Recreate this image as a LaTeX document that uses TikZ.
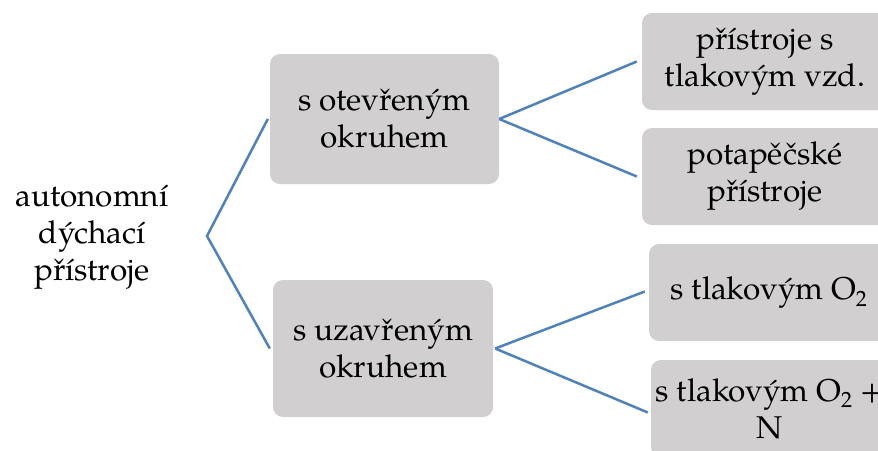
\documentclass[tikz,border=0pt]{standalone}
\usepackage{fontspec}
\setmainfont{TeX Gyre Pagella}
\definecolor{boxgray}{RGB}{209,207,208}
\definecolor{linkblue}{RGB}{79,129,189}
\begin{document}
\begin{tikzpicture}[x=1pt,y=-1pt,
  every node/.style={font=\fontsize{31.5}{37}\selectfont, align=center, inner sep=0pt},
  gbox/.style={fill=boxgray, rounded corners=10pt},
  link/.style={draw=linkblue, line width=2.5pt}]
\useasboundingbox (0,0) rectangle (878,450);
\clip (0,0) rectangle (878,450);
\node (root) at (92,237) {autonomní\\dýchací\\přístroje};
\node[gbox, minimum width=229pt, minimum height=130pt] (b1) at (384.5,119) {s otevřeným\\okruhem};
\node[gbox, minimum width=220pt, minimum height=137pt] (b2) at (383,348.5) {s uzavřeným\\okruhem};
\node[gbox, minimum width=246pt, minimum height=97pt] (b3) at (765,61.5) {přístroje s\\tlakovým vzd.};
\node[gbox, minimum width=246pt, minimum height=97pt] (b4) at (765,176.5) {potapěčské\\přístroje};
\node[gbox, minimum width=240pt, minimum height=97pt] (b5) at (769,292.5) {s tlakovým O\textsubscript{2}};
\node[gbox, minimum width=238pt, minimum height=97pt] (b6) at (770,408.5) {s tlakovým O\textsubscript{2} +\\N};
\coordinate (v1) at (207,236);
\draw[link, line join=miter] ([xshift=-2pt]b1.west) -- (v1) -- ([xshift=-3pt]b2.west);
\draw[link] (b1.east) -- ([xshift=-5pt]b3.west);
\draw[link] (b1.east) -- ([xshift=-5pt]b4.west);
\draw[link] ([xshift=2pt]b2.east) -- ([xshift=-4pt,yshift=1pt]b5.west);
\draw[link] ([xshift=2pt]b2.east) -- ([xshift=-3pt,yshift=-4pt]b6.west);
\end{tikzpicture}
\end{document}
